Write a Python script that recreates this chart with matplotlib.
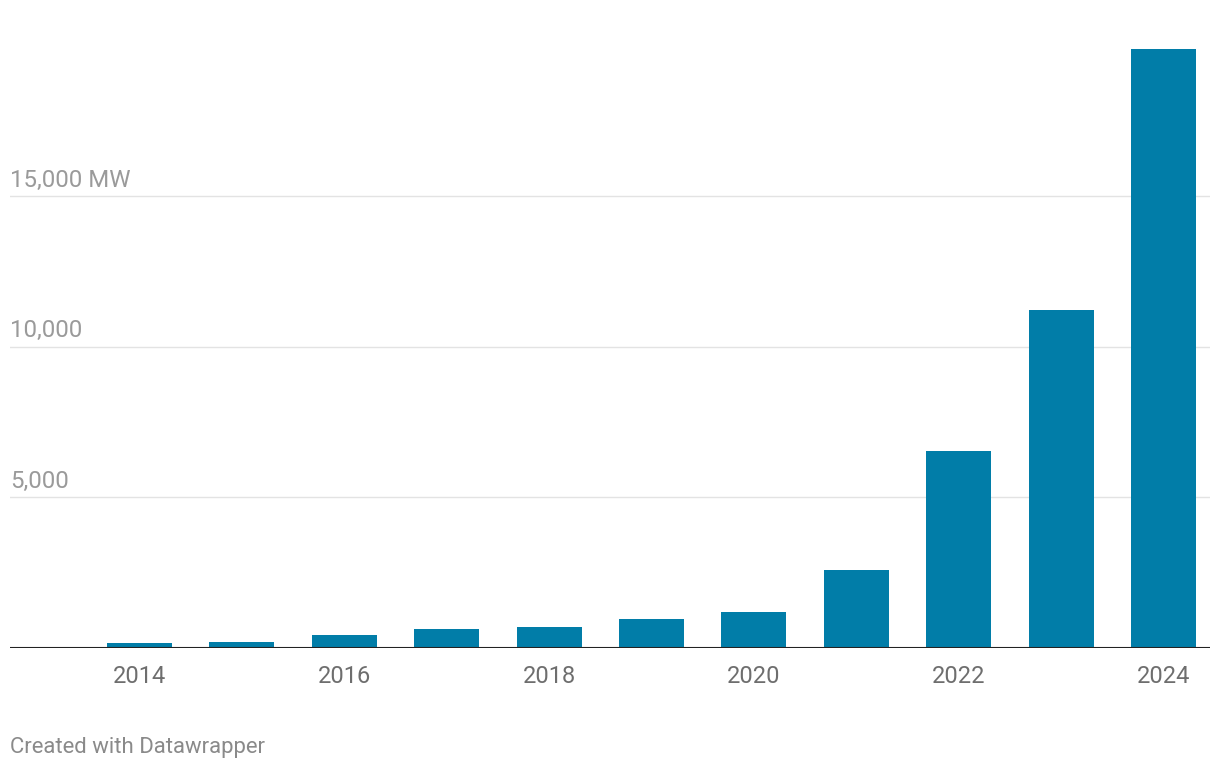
import matplotlib
matplotlib.use("Agg")
import matplotlib.pyplot as plt

years = [2014, 2015, 2016, 2017, 2018, 2019, 2020, 2021, 2022, 2023, 2024]
values = [150, 185, 420, 620, 685, 950, 1185, 2600, 6555, 11240, 19910]
xtick_years = [2014, 2016, 2018, 2020, 2022, 2024]
ytick_vals = [5000, 10000, 15000]
ytick_labels = ["5,000", "10,000", "15,000 MW"]

plt.rcParams['font.family'] = ['Roboto', 'DejaVu Sans']

W, H = 1220, 770
fig = plt.figure(figsize=(W / 100, H / 100), dpi=100)
ax = fig.add_axes([10 / W, 122 / H, 1200 / W, 602 / H])

ax.set_xlim(2012.735, 2024.454)
ax.set_ylim(0, 20000)

for v in ytick_vals:
    ax.axhline(v, color="#e3e3e3", linewidth=1.0, zorder=1)

ax.bar(years, values, width=0.635, color="#017da8", zorder=2)
ax.axhline(0, color="#222222", linewidth=1.5, zorder=3)

for v, lab in zip(ytick_vals, ytick_labels):
    ax.annotate(lab, xy=(0, v), xycoords=("axes fraction", "data"),
                xytext=(0, 5), textcoords="offset pixels",
                ha="left", va="bottom", fontsize=17.3, color="#9a9a9a")

ax.set_xticks(xtick_years)
ax.set_xticklabels([str(y) for y in xtick_years], fontsize=17, color="#6e6e6e")
ax.tick_params(axis="x", length=0, pad=12)
ax.set_yticks([])
for s in ax.spines.values():
    s.set_visible(False)

fig.text(10 / W, 1 - 748 / H, "Created with Datawrapper", ha="left", va="center",
         fontsize=15.9, color="#8a8a8a")

fig.savefig("out.png", dpi=100, facecolor="white")
